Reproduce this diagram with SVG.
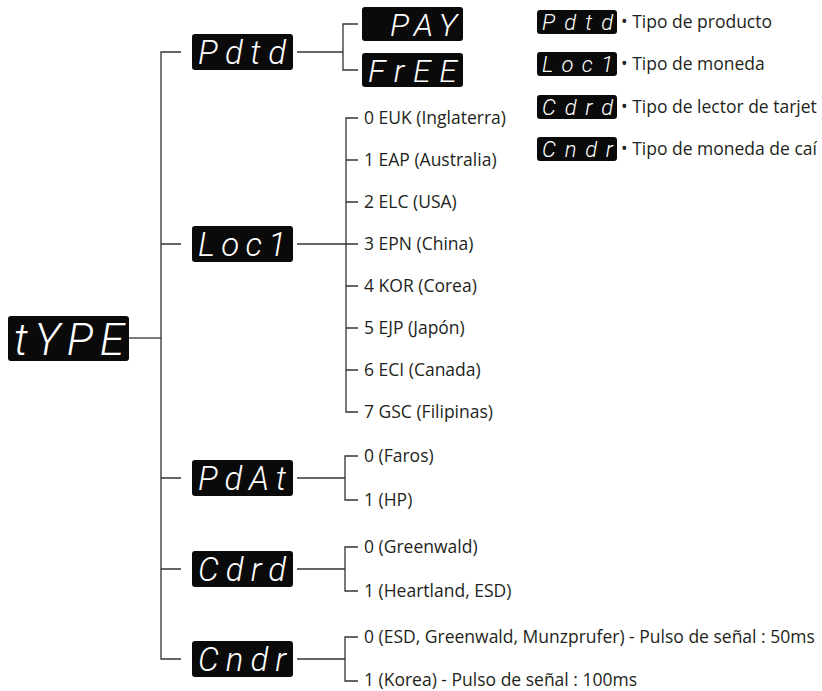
<svg xmlns="http://www.w3.org/2000/svg" width="822" height="691" viewBox="0 0 822 691">
<style>
.box{fill:#0a0a0a}
.seg{fill:#ffffff;font-family:Roboto,"Lato","Inter",sans-serif;font-weight:300;font-style:italic}
.lbl{fill:#231f20;font-family:"Open Sans","Noto Sans",sans-serif;font-size:17.5px}
.ln{fill:none;stroke:#333;stroke-width:1.3}
</style>
<rect width="822" height="691" fill="#fff"/>
<g id="connectors" class="ln">
<path d="M129,338 H161"/>
<path d="M181,52 H161 V659 H181"/>
<path d="M161,244 H181 M161,478 H181 M161,569 H181"/>
<path d="M297,52 H343 M358,24 H343 V70 H358"/>
<path d="M297,244 H358 M358,118 H346 V412 H358 M346,160 H358 M346,202 H358 M346,286 H358 M346,328 H358 M346,370 H358"/>
<path d="M297,478 H345 M358,456 H345 V500 H358"/>
<path d="M297,569 H345 M358,547 H345 V591 H358"/>
<path d="M297,659 H345 M358,637 H345 V681 H358"/>
</g>
<g id="n-type"><rect class="box" x="8" y="316" width="121" height="45" rx="3"/><text class="seg" x="14" y="355" font-size="44" textLength="110" lengthAdjust="spacing">tYPE</text></g>
<g id="n-pdtd"><rect class="box" x="192" y="34" width="101" height="36" rx="3"/><text class="seg" x="198" y="64" font-size="33" textLength="88" lengthAdjust="spacing">Pdtd</text></g>
<g id="n-pay"><rect class="box" x="362" y="7" width="101" height="34" rx="3"/><text class="seg" x="390" y="36" font-size="32" textLength="67" lengthAdjust="spacing">PAY</text></g>
<g id="n-free"><rect class="box" x="362" y="53" width="101" height="34" rx="3"/><text class="seg" x="368" y="82" font-size="32" textLength="89" lengthAdjust="spacing">FrEE</text></g>
<g id="n-loc1"><rect class="box" x="192" y="226" width="101" height="36" rx="3"/><text class="seg" x="198" y="256" font-size="33" textLength="88" lengthAdjust="spacing">Loc1</text></g>
<g id="loc-list">
<text class="lbl" x="364" y="124">0 EUK (Inglaterra)</text>
<text class="lbl" x="364" y="166">1 EAP (Australia)</text>
<text class="lbl" x="364" y="208">2 ELC (USA)</text>
<text class="lbl" x="364" y="250">3 EPN (China)</text>
<text class="lbl" x="364" y="292">4 KOR (Corea)</text>
<text class="lbl" x="364" y="334">5 EJP (Japón)</text>
<text class="lbl" x="364" y="376">6 ECI (Canada)</text>
<text class="lbl" x="364" y="418">7 GSC (Filipinas)</text>
</g>
<g id="n-pdat"><rect class="box" x="192" y="460" width="101" height="36" rx="3"/><text class="seg" x="198" y="490" font-size="33" textLength="88" lengthAdjust="spacing">PdAt</text></g>
<g id="pdat-list">
<text class="lbl" x="364" y="462">0 (Faros)</text>
<text class="lbl" x="364" y="506">1 (HP)</text>
</g>
<g id="n-cdrd"><rect class="box" x="192" y="551" width="101" height="36" rx="3"/><text class="seg" x="198" y="581" font-size="33" textLength="88" lengthAdjust="spacing">Cdrd</text></g>
<g id="cdrd-list">
<text class="lbl" x="364" y="553">0 (Greenwald)</text>
<text class="lbl" x="364" y="597">1 (Heartland, ESD)</text>
</g>
<g id="n-cndr"><rect class="box" x="192" y="641" width="101" height="36" rx="3"/><text class="seg" x="198" y="671" font-size="33" textLength="88" lengthAdjust="spacing">Cndr</text></g>
<g id="cndr-list">
<text class="lbl" x="364" y="643">0 (ESD, Greenwald, Munzprufer) - Pulso de señal : 50ms</text>
<text class="lbl" x="364" y="686">1 (Korea) - Pulso de señal : 100ms</text>
</g>
<g id="legend">
<g id="lg-pdtd"><rect class="box" x="537" y="10" width="80" height="24" rx="3"/><text class="seg" x="542" y="30" font-size="22" textLength="71" lengthAdjust="spacing">Pdtd</text><text class="lbl" x="621" y="28">• Tipo de producto</text></g>
<g id="lg-loc1"><rect class="box" x="537" y="52" width="80" height="24" rx="3"/><text class="seg" x="542" y="72" font-size="22" textLength="71" lengthAdjust="spacing">Loc1</text><text class="lbl" x="621" y="70">• Tipo de moneda</text></g>
<g id="lg-cdrd"><rect class="box" x="537" y="95" width="80" height="24" rx="3"/><text class="seg" x="542" y="115" font-size="22" textLength="71" lengthAdjust="spacing">Cdrd</text><text class="lbl" x="621" y="113">• Tipo de lector de tarjet</text></g>
<g id="lg-cndr"><rect class="box" x="537" y="137" width="80" height="24" rx="3"/><text class="seg" x="542" y="157" font-size="22" textLength="71" lengthAdjust="spacing">Cndr</text><text class="lbl" x="621" y="155">• Tipo de moneda de caí</text></g>
</g>
</svg>
